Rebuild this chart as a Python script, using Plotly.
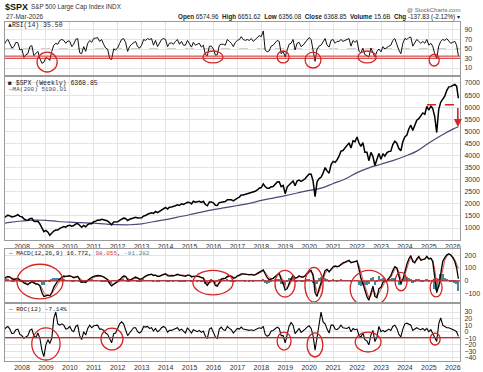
import pandas as pd
import plotly.graph_objects as go

# ---------------- data (monthly readings, Mar 2007 .. 27-Mar-2026) ----------------
price = [
    1421, 1482, 1530, 1503, 1455, 1474, 1527, 1549, 1481, 1468,
    1378, 1331, 1323, 1386, 1400, 1280, 1267, 1283, 1166, 969, 850, 903,
    826, 700, 798, 873, 919, 919, 987, 1021, 1057, 1036, 1096, 1115,
    1074, 1104, 1169, 1187, 1089, 1031, 1102, 1049, 1141, 1183, 1181, 1258,
    1286, 1327, 1326, 1364, 1345, 1321, 1292, 1219, 1131, 1253, 1247, 1258,
    1312, 1366, 1408, 1398, 1310, 1362, 1379, 1407, 1441, 1412, 1416, 1426,
    1498, 1515, 1569, 1598, 1631, 1606, 1686, 1633, 1682, 1757, 1806, 1848,
    1783, 1859, 1872, 1884, 1924, 1960, 1931, 2003, 1972, 2018, 2068, 2059,
    1995, 2105, 2068, 2086, 2107, 2063, 2104, 1972, 1920, 2079, 2080, 2044,
    1940, 1932, 2060, 2065, 2097, 2099, 2174, 2171, 2168, 2126, 2199, 2239,
    2279, 2364, 2363, 2384, 2412, 2423, 2470, 2472, 2519, 2575, 2648, 2674,
    2824, 2714, 2641, 2648, 2705, 2718, 2816, 2902, 2914, 2712, 2760, 2420,
    2704, 2784, 2834, 2946, 2752, 2942, 2980, 2926, 2977, 3038, 3141, 3231,
    3226, 2954, 2300, 2912, 3044, 3100, 3271, 3500, 3363, 3270, 3622, 3756,
    3714, 3811, 3973, 4181, 4204, 4298, 4395, 4523, 4308, 4605, 4567, 4766,
    4516, 4374, 4530, 4132, 4132, 3785, 4130, 3955, 3586, 3872, 4080, 3840,
    4077, 3970, 4109, 4169, 4180, 4450, 4589, 4508, 4288, 4194, 4568, 4770,
    4846, 5096, 5254, 5036, 5278, 5460, 5522, 5648, 5762, 5705, 6032, 5882,
    6041, 5955, 5612, 4950, 5912, 6205, 6339, 6460, 6688, 6840, 6849, 6880,
    6940, 6870, 6368.85,
]

ma_dates = [
    "2007-04-15", "2007-07-01", "2008-01-01", "2008-07-01", "2009-01-01", "2009-07-01",
    "2010-01-01", "2010-07-01", "2011-01-01", "2011-07-01", "2012-01-01", "2012-07-01",
    "2013-01-01", "2013-07-01", "2014-01-01", "2014-07-01", "2015-01-01", "2015-07-01",
    "2016-01-01", "2016-07-01", "2017-01-01", "2017-07-01", "2018-01-01", "2018-07-01",
    "2019-01-01", "2019-07-01", "2020-01-01", "2020-07-01", "2021-01-01", "2021-07-01",
    "2022-01-01", "2022-07-01", "2023-01-01", "2023-07-01", "2024-01-01", "2024-07-01",
    "2025-01-01", "2025-07-01", "2026-01-01", "2026-03-27",
]
ma200 = [
    1200, 1230, 1290, 1330, 1320, 1270,
    1240, 1220, 1200, 1165, 1140, 1135,
    1170, 1260, 1350, 1450, 1550, 1660,
    1760, 1840, 1930, 2020, 2140, 2240,
    2340, 2450, 2560, 2650, 2840, 3030,
    3290, 3490, 3640, 3790, 3970, 4180,
    4520, 4820, 5090, 5190.01,
]

rsi = [
    58, 66, 70, 62, 52, 55, 64, 63, 48, 50,
    32, 38, 40, 55, 57, 36, 40, 45, 30, 20, 22, 32,
    30, 26, 45, 58, 62, 60, 68, 70, 68, 62, 67, 66,
    55, 60, 70, 72, 42, 40, 55, 45, 62, 68, 64, 72,
    73, 74, 66, 70, 60, 52, 50, 30, 28, 50, 48, 52,
    62, 70, 72, 64, 45, 55, 60, 63, 66, 55, 52, 58,
    70, 68, 72, 70, 72, 58, 68, 55, 62, 70, 72, 70,
    55, 62, 63, 60, 66, 70, 60, 66, 58, 58, 68, 62,
    54, 64, 58, 60, 62, 54, 58, 38, 36, 56, 56, 50,
    37, 38, 58, 60, 60, 58, 70, 66, 62, 55, 64, 68,
    70, 76, 70, 68, 70, 68, 72, 66, 70, 76, 78, 76,
    88, 48, 44, 46, 56, 58, 64, 68, 66, 40, 45, 33,
    48, 60, 62, 70, 48, 62, 64, 55, 58, 64, 70, 74,
    70, 45, 24, 50, 56, 58, 64, 72, 58, 54, 68, 70,
    62, 66, 66, 70, 66, 68, 70, 72, 56, 68, 64, 68,
    45, 42, 52, 38, 36, 33, 52, 44, 33, 45, 50, 44,
    55, 50, 54, 56, 58, 68, 72, 58, 48, 40, 62, 72,
    70, 74, 75, 56, 64, 70, 66, 62, 66, 62, 70, 58,
    62, 56, 40, 30, 56, 66, 70, 68, 72, 68, 62, 64,
    66, 58, 35.50,
]

macd = [
    20, 28, 35, 30, 15, 10, 18, 20, 5, 0,
    -15, -25, -30, -15, -5, -15, -25, -25, -40, -90, -120, -115,
    -110, -115, -90, -50, -20, 0, 15, 30, 38, 36, 38, 40,
    32, 25, 30, 35, 10, -10, -8, -12, 5, 20, 28, 35,
    40, 42, 40, 38, 30, 18, 10, -20, -38, -25, -15, -8,
    8, 25, 38, 36, 10, 5, 12, 20, 30, 22, 12, 15,
    30, 38, 45, 48, 52, 42, 45, 35, 35, 45, 52, 55,
    40, 38, 42, 40, 45, 52, 45, 45, 40, 35, 45, 45,
    30, 35, 35, 32, 35, 25, 22, -15, -35, -10, 5, 0,
    -35, -40, -10, 15, 20, 20, 35, 40, 35, 20, 25, 40,
    45, 55, 55, 50, 50, 48, 50, 45, 48, 58, 68, 72,
    85, 55, 25, 10, 15, 20, 35, 50, 60, 10, -20, -70,
    -60, -20, 15, 45, 20, 25, 40, 30, 30, 40, 60, 75,
    80, 40, -90, -120, -60, -10, 40, 80, 90, 70, 90, 110,
    115, 110, 115, 130, 140, 145, 150, 160, 140, 145, 150, 155,
    90, 20, -20, -70, -120, -150, -90, -40, -120, -130, -60, -50,
    -10, 0, 0, 20, 40, 80, 110, 100, 40, -20, 10, 80,
    130, 170, 195, 150, 140, 170, 190, 160, 165, 170, 190, 170,
    175, 150, 30, -90, -40, 60, 150, 180, 200, 210, 200, 180,
    150, 100, 16.772,
]

signal = [
    15, 20, 27, 30, 24, 17, 15, 17, 12, 6,
    -3, -14, -22, -20, -12, -12, -18, -22, -30, -55, -90, -108,
    -110, -112, -100, -75, -45, -20, 0, 15, 28, 34, 36, 38,
    35, 30, 29, 31, 22, 5, -4, -8, -2, 10, 20, 28,
    34, 38, 40, 39, 34, 25, 15, -2, -22, -26, -20, -13,
    -2, 12, 26, 34, 22, 12, 10, 15, 24, 24, 18, 16,
    22, 32, 40, 45, 49, 46, 45, 40, 37, 40, 47, 52,
    47, 42, 41, 41, 43, 48, 47, 46, 43, 39, 41, 43,
    37, 35, 35, 33, 34, 30, 25, 5, -18, -15, -5, -1,
    -18, -32, -22, -3, 12, 18, 27, 35, 36, 28, 26, 33,
    40, 48, 52, 51, 50, 49, 49, 47, 47, 52, 61, 68,
    77, 68, 45, 25, 18, 19, 27, 40, 52, 33, 5, -40,
    -55, -40, -10, 25, 28, 26, 33, 33, 31, 36, 48, 64,
    74, 58, -20, -95, -85, -40, 10, 55, 82, 78, 84, 100,
    110, 112, 113, 122, 133, 140, 146, 154, 148, 145, 148, 152,
    120, 60, 10, -40, -90, -130, -115, -70, -90, -120, -95, -65,
    -35, -12, -4, 10, 28, 58, 90, 100, 70, 15, 5, 45,
    100, 145, 180, 165, 148, 158, 178, 170, 166, 168, 180, 175,
    175, 162, 90, -20, -50, 10, 100, 160, 188, 204, 204, 190,
    165, 125, 98.055,
]

hist = [
    5, 8, 8, 0, -9, -7, 3, 3, -7, -6,
    -12, -11, -8, 5, 7, -3, -7, -3, -10, -35, -30, -7,
    0, -3, 10, 25, 25, 20, 15, 15, 10, 2, 2, 2,
    -3, -5, 1, 4, -12, -15, -4, -4, 7, 10, 8, 7,
    6, 4, 0, -1, -4, -7, -5, -18, -16, 1, 5, 5,
    10, 13, 12, 2, -12, -7, 2, 5, 6, -2, -6, -1,
    8, 6, 5, 3, 3, -4, 0, -5, -2, 5, 5, 3,
    -7, -4, 1, -1, 2, 4, -2, -1, -3, -4, 4, 2,
    -7, 0, 0, -1, 1, -5, -3, -20, -17, 5, 10, 1,
    -17, -8, 12, 18, 8, 2, 8, 5, -1, -8, -1, 7,
    5, 7, 3, -1, 0, -1, 1, -2, 1, 6, 7, 4,
    8, -13, -20, -15, -3, 1, 8, 10, 8, -23, -25, -30,
    -5, 20, 25, 20, -8, -1, 7, -3, -1, 4, 12, 11,
    6, -18, -70, -25, 25, 30, 30, 25, 8, -8, 6, 10,
    5, -2, 2, 8, 7, 5, 4, 6, -8, 0, 2, 3,
    -30, -40, -30, -30, -30, -20, 25, 30, -30, -10, 35, 15,
    25, 12, 4, 10, 12, 22, 20, 0, -30, -35, 5, 35,
    30, 25, 15, -15, -8, 12, 12, -10, -1, 2, 10, -5,
    0, -12, -60, -70, 10, 50, 50, 20, 12, 6, -4, -10,
    -15, -25, -81.282,
]

roc = [
    2, 6, 8, 4, -3, -2, 3, 4, -4, -6,
    -10, -8, -6, 2, 4, -6, -9, -2, -10, -28, -38, -20,
    -12, -18, -10, 20, 30, 12, 10, 12, 10, 4, 5, 8,
    2, 0, 8, 10, -6, -12, 0, -5, 5, 10, 6, 9,
    10, 10, 4, 4, 2, -2, -4, -12, -17, -3, -2, 5,
    12, 15, 12, 3, -6, -2, 2, 6, 6, 0, -2, 1,
    8, 7, 8, 5, 6, 1, 5, 0, 2, 6, 8, 6,
    -1, 2, 2, 3, 4, 6, 2, 4, 1, -2, 6, 2,
    -2, 3, 1, 0, 2, -1, 1, -7, -10, 4, 6, 0,
    -8, -10, 4, 7, 3, 2, 8, 5, 3, -2, 2, 5,
    4, 7, 4, 3, 3, 2, 3, 2, 3, 4, 6, 5,
    8, -4, -7, -5, 1, 2, 4, 7, 5, -6, -6, -17,
    -4, 8, 14, 10, -3, 2, 5, -1, 1, 4, 7, 9,
    5, -6, -28, -10, 12, 30, 15, 12, 4, -2, 10, 10,
    4, 3, 6, 10, 6, 5, 5, 7, 0, 5, 3, 4,
    -6, -8, -2, -12, -14, -20, -5, 2, -15, -8, 8, 0,
    2, 0, 2, 4, 2, 8, 10, 5, -4, -8, 4, 12,
    13, 12, 10, 2, 4, 6, 4, 3, 5, 2, 5, 0,
    3, -2, -8, -15, 12, 21, 10, 8, 6, 6, 5, 3,
    2, 0, -7.14,
]

years = list(range(2008, 2027))

# hand-drawn red marks, in data units: (fractional year, value, half-width yrs, half-height)
rsi_circles = [(2009.05, 22.6, 0.42, 21), (2015.98, 33.2, 0.42, 12.6), (2018.91, 33.2, 0.25, 12.6),
               (2020.16, 26.8, 0.33, 16.8), (2022.42, 33.2, 0.38, 12.6), (2025.22, 26.8, 0.21, 12.6)]
macd_circles = [(2008.75, -5, 0.96, 134), (2015.98, -13, 0.84, 95), (2018.99, -21, 0.42, 103),
                (2020.20, -29, 0.38, 134), (2022.50, -61, 0.79, 142), (2023.84, -5, 0.25, 71),
                (2025.30, -53, 0.25, 71)]
roc_circles = [(2009.0, -18.7, 0.59, 24.4), (2011.76, -11.1, 0.46, 16.7), (2018.95, -14.2, 0.29, 13.7),
               (2020.24, -20.2, 0.33, 18.3), (2022.46, -15.7, 0.54, 15.2), (2025.26, -11.1, 0.21, 9.1)]
rsi_red_levels = [30.5, 35]
macd_red_level = 0
roc_red_level = -9
price_support = 6100

n = len(price)
for arr in (rsi, macd, signal, hist, roc):
    assert len(arr) == n, len(arr)
assert len(ma_dates) == len(ma200)

dates = list(pd.date_range("2007-03-31", periods=n, freq="ME"))
dates[-1] = pd.Timestamp("2026-03-27")


def yd(t):
    y = int(t)
    return pd.Timestamp(y, 1, 1) + pd.Timedelta(days=(t - y) * 365.25)


W, H = 483, 372
def py(px):
    return 1 - px / H

XDOM = [5 / W, 460 / W]
XRANGE = [yd(2007.29), yd(2026.30)]
GRID = "#e4e4e4"
BORDER = "#9a9a9a"
RED = "#d42525"
TXT = "#222222"
FONT = "Liberation Sans, Arial, sans-serif"
MONO = "Liberation Mono, DejaVu Sans Mono, monospace"

fig = go.Figure()

# RSI
fig.add_trace(go.Scatter(x=dates, y=rsi, mode="lines", line=dict(color="#111", width=1),
                         xaxis="x", yaxis="y", hoverinfo="skip"))
# Price
fig.add_trace(go.Scatter(x=pd.to_datetime(ma_dates), y=ma200, mode="lines", line_shape="spline",
                         line=dict(color="#4a4a78", width=1.2), xaxis="x2", yaxis="y2", hoverinfo="skip"))
fig.add_trace(go.Scatter(x=dates, y=price, mode="lines", line=dict(color="#000", width=1.5),
                         xaxis="x2", yaxis="y2", hoverinfo="skip"))
# MACD
fig.add_trace(go.Bar(x=dates, y=hist, marker_color="#3b8c9c", marker_line_width=0, width=25 * 86400000,
                     xaxis="x3", yaxis="y3", hoverinfo="skip"))
fig.add_trace(go.Scatter(x=dates, y=signal, mode="lines", line=dict(color="#e0504a", width=1),
                         xaxis="x3", yaxis="y3", hoverinfo="skip"))
fig.add_trace(go.Scatter(x=dates, y=macd, mode="lines", line=dict(color="#000", width=1.3),
                         xaxis="x3", yaxis="y3", hoverinfo="skip"))
# ROC
fig.add_trace(go.Scatter(x=dates, y=roc, mode="lines", line=dict(color="#000", width=1.1),
                         xaxis="x4", yaxis="y4", hoverinfo="skip"))

tickdates = [pd.Timestamp(y, 1, 1) for y in years]
tickfont = dict(family=FONT, size=7, color="#333")


def xax(show, anchor):
    return dict(domain=XDOM, range=XRANGE, type="date", tickvals=tickdates,
                ticktext=[str(y) for y in years], showticklabels=show, tickfont=tickfont,
                ticks="", showgrid=True, gridcolor=GRID, gridwidth=1, showline=True,
                mirror=True, linecolor=BORDER, linewidth=1, zeroline=False, anchor=anchor,
                automargin=False, ticklabelstandoff=0)


def yax(top, bot, rng, tv, anchor):
    return dict(domain=[py(bot), py(top)], range=rng, side="right", tickvals=tv,
                tickfont=tickfont, ticks="", showgrid=True, gridcolor=GRID, gridwidth=1,
                showline=True, mirror=True, linecolor=BORDER, linewidth=1, zeroline=False,
                anchor=anchor, ticklabelstandoff=2, automargin=False)


fig.update_layout(
    width=W, height=H, margin=dict(l=0, r=0, t=0, b=0),
    paper_bgcolor="white", plot_bgcolor="white", showlegend=False, bargap=0,
    xaxis=xax(False, "y"), yaxis=yax(22, 75, [-4.7, 106.8], [10, 30, 50, 70, 90], "x"),
    xaxis2=xax(True, "y2"), yaxis2=yax(77, 240, [504, 7248], list(range(1000, 7001, 500)), "x2"),
    xaxis3=xax(False, "y3"), yaxis3=yax(249, 302, [-163, 247], [-100, 0, 100, 200], "x3"),
    xaxis4=xax(True, "y4"), yaxis4=yax(304, 361, [-44.6, 42.2], list(range(-40, 31, 10)), "x4"),
)

shapes = []
# RSI reference lines
for lvl, col, dash in [(70, "#8a8a8a", "solid"), (30, "#8a8a8a", "solid"), (50, "#9a9a9a", "dash")]:
    shapes.append(dict(type="line", xref="x domain", yref="y", x0=0, x1=1, y0=lvl, y1=lvl,
                       line=dict(color=col, width=1, dash=dash), layer="below"))
for lvl in rsi_red_levels:
    shapes.append(dict(type="line", xref="x domain", yref="y", x0=0, x1=1, y0=lvl, y1=lvl,
                       line=dict(color=RED, width=1)))
shapes.append(dict(type="line", xref="x3 domain", yref="y3", x0=0, x1=1, y0=macd_red_level,
                   y1=macd_red_level, line=dict(color=RED, width=1.2)))
shapes.append(dict(type="line", xref="x4 domain", yref="y4", x0=0, x1=1, y0=roc_red_level,
                   y1=roc_red_level, line=dict(color=RED, width=1.2)))
shapes.append(dict(type="line", xref="x2", yref="y2", x0=yd(2024.92), x1=yd(2026.38),
                   y0=price_support, y1=price_support, line=dict(color=RED, width=1.5, dash="dash")))

for ax, circles in [("", rsi_circles), ("3", macd_circles), ("4", roc_circles)]:
    for t, v, rx, ry in circles:
        shapes.append(dict(type="circle", xref="x" + ax, yref="y" + ax,
                           x0=yd(t - rx), x1=yd(t + rx), y0=v - ry, y1=v + ry,
                           line=dict(color=RED, width=1.3)))
fig.update_layout(shapes=shapes)

ann = []


def txt(x, y, text, size=7, font=FONT, color=TXT, xanchor="left"):
    ann.append(dict(xref="paper", yref="paper", x=x / W, y=py(y), text=text, showarrow=False,
                    xanchor=xanchor, yanchor="middle", font=dict(family=font, size=size, color=color)))


txt(3, 7, "<b>$SPX</b>", size=9, color="#111")
txt(29, 7, "S&P 500 Large Cap Index INDX", size=6.3, color="#333")
txt(4, 17, "27-Mar-2026", size=6.5, color="#333")
txt(462, 10, "@ StockCharts.com", size=6, color="#666", xanchor="right")
txt(462, 17, "<b>Open</b> 6574.96  <b>High</b> 6651.62  <b>Low</b> 6356.08  <b>Close</b> 6368.85  "
             "<b>Volume</b> 15.6B  <b>Chg</b> -137.83 (-2.12%) \u25be", size=6.3, color="#222", xanchor="right")
txt(6, 26, "\u25b2RSI(14) 35.50", size=6.5, font=MONO, color="#222")
txt(6, 83, "\u25a0 $SPX (Weekly) 6368.85", size=6.5, font=MONO, color="#222")
txt(6, 89, "<span style='color:#4a4a78'>\u2014MA(200) 5190.01</span>", size=6, font=MONO)
txt(6, 254, "\u2014 MACD(12,26,9) 16.772, <span style='color:#d63c36'>98.055</span>, "
            "<span style='color:#3b8c9c'>-81.282</span>", size=6, font=MONO, color="#222")
txt(6, 309, "\u2014 ROC(12) -7.14%", size=6, font=MONO, color="#222")

# red arrow from the support line down toward the moving average
ann.append(dict(xref="x2", yref="y2", axref="x2", ayref="y2", x=yd(2026.21), y=5180,
                ax=yd(2026.21), ay=6030, text="", showarrow=True, arrowhead=2, arrowsize=1,
                arrowwidth=1.6, arrowcolor=RED))
fig.update_layout(annotations=ann)

fig.write_html("out.html", config={"displayModeBar": False},
               post_script="document.body.style.margin='0';document.body.style.padding='0';")
